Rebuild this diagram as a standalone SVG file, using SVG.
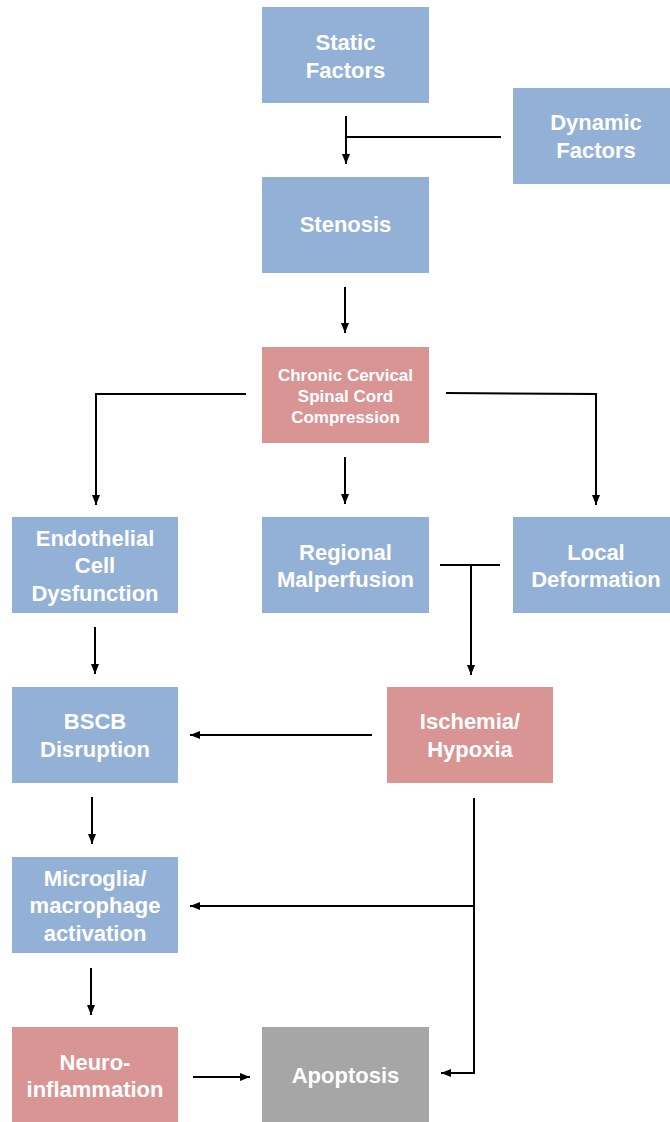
<svg xmlns="http://www.w3.org/2000/svg" width="670" height="1122" viewBox="0 0 670 1122">
<style>
.blue{fill:#93b1d7}
.pink{fill:#d99594}
.gray{fill:#a6a6a6}
text{font-family:"Liberation Sans",Arial,sans-serif;font-weight:bold;font-size:22px;fill:#ffffff;text-anchor:middle}
.small{font-size:17px}
.c line,.c polyline{stroke:#000;stroke-width:2;fill:none}
</style>
<defs>
<marker id="ah" markerUnits="userSpaceOnUse" markerWidth="10" markerHeight="10" viewBox="0 0 10 10" refX="10" refY="5" orient="auto">
<path d="M0,1 L10,5 L0,9 Z" fill="#000"/>
</marker>
</defs>
<rect width="670" height="1122" fill="#ffffff"/>
<g id="static"><rect class="blue" x="262" y="7" width="167" height="96"/><text x="345.5" y="50">Static</text><text x="345.5" y="78">Factors</text></g>
<g id="dynamic"><rect class="blue" x="513" y="88" width="157" height="96"/><text x="596" y="130">Dynamic</text><text x="596" y="158">Factors</text></g>
<g id="stenosis"><rect class="blue" x="262" y="177" width="167" height="96"/><text x="345.5" y="232">Stenosis</text></g>
<g id="compression"><rect class="pink" x="262" y="347" width="167" height="96"/><text class="small" x="345.5" y="381">Chronic Cervical</text><text class="small" x="345.5" y="402">Spinal Cord</text><text class="small" x="345.5" y="423">Compression</text></g>
<g id="endothelial"><rect class="blue" x="12" y="517" width="166" height="96"/><text x="95" y="546">Endothelial</text><text x="95" y="573">Cell</text><text x="95" y="601">Dysfunction</text></g>
<g id="regional"><rect class="blue" x="262" y="517" width="167" height="96"/><text x="345.5" y="560">Regional</text><text x="345.5" y="587">Malperfusion</text></g>
<g id="local"><rect class="blue" x="513" y="517" width="157" height="96"/><text x="596" y="560">Local</text><text x="596" y="587">Deformation</text></g>
<g id="bscb"><rect class="blue" x="12" y="687" width="166" height="96"/><text x="95" y="729">BSCB</text><text x="95" y="757">Disruption</text></g>
<g id="ischemia"><rect class="pink" x="387" y="687" width="166" height="96"/><text x="470" y="729">Ischemia/</text><text x="470" y="757">Hypoxia</text></g>
<g id="microglia"><rect class="blue" x="12" y="857" width="166" height="96"/><text x="95" y="886">Microglia/</text><text x="95" y="913">macrophage</text><text x="95" y="941">activation</text></g>
<g id="neuroinflammation"><rect class="pink" x="12" y="1027" width="166" height="95"/><text x="95" y="1070">Neuro-</text><text x="95" y="1097">inflammation</text></g>
<g id="apoptosis"><rect class="gray" x="262" y="1027" width="167" height="95"/><text x="345.5" y="1083">Apoptosis</text></g>
<g id="connectors" class="c">
<line x1="346" y1="116" x2="346" y2="164" marker-end="url(#ah)"/>
<line x1="501" y1="137" x2="346" y2="137"/>
<line x1="345" y1="287" x2="345" y2="333" marker-end="url(#ah)"/>
<polyline points="246,394 96,394 96,505" marker-end="url(#ah)"/>
<line x1="345" y1="457" x2="345" y2="504" marker-end="url(#ah)"/>
<polyline points="446,393 596,394 596,505" marker-end="url(#ah)"/>
<line x1="440" y1="565" x2="500" y2="565"/>
<line x1="471" y1="565" x2="471" y2="675" marker-end="url(#ah)"/>
<line x1="95" y1="627" x2="95" y2="674" marker-end="url(#ah)"/>
<line x1="372" y1="735" x2="190" y2="735" marker-end="url(#ah)"/>
<line x1="92" y1="797" x2="92" y2="844" marker-end="url(#ah)"/>
<polyline points="474,798 474,1073 441,1073" marker-end="url(#ah)"/>
<line x1="474" y1="906" x2="190" y2="906" marker-end="url(#ah)"/>
<line x1="91" y1="968" x2="91" y2="1015" marker-end="url(#ah)"/>
<line x1="193" y1="1077" x2="250" y2="1077" marker-end="url(#ah)"/>
</g>
</svg>
